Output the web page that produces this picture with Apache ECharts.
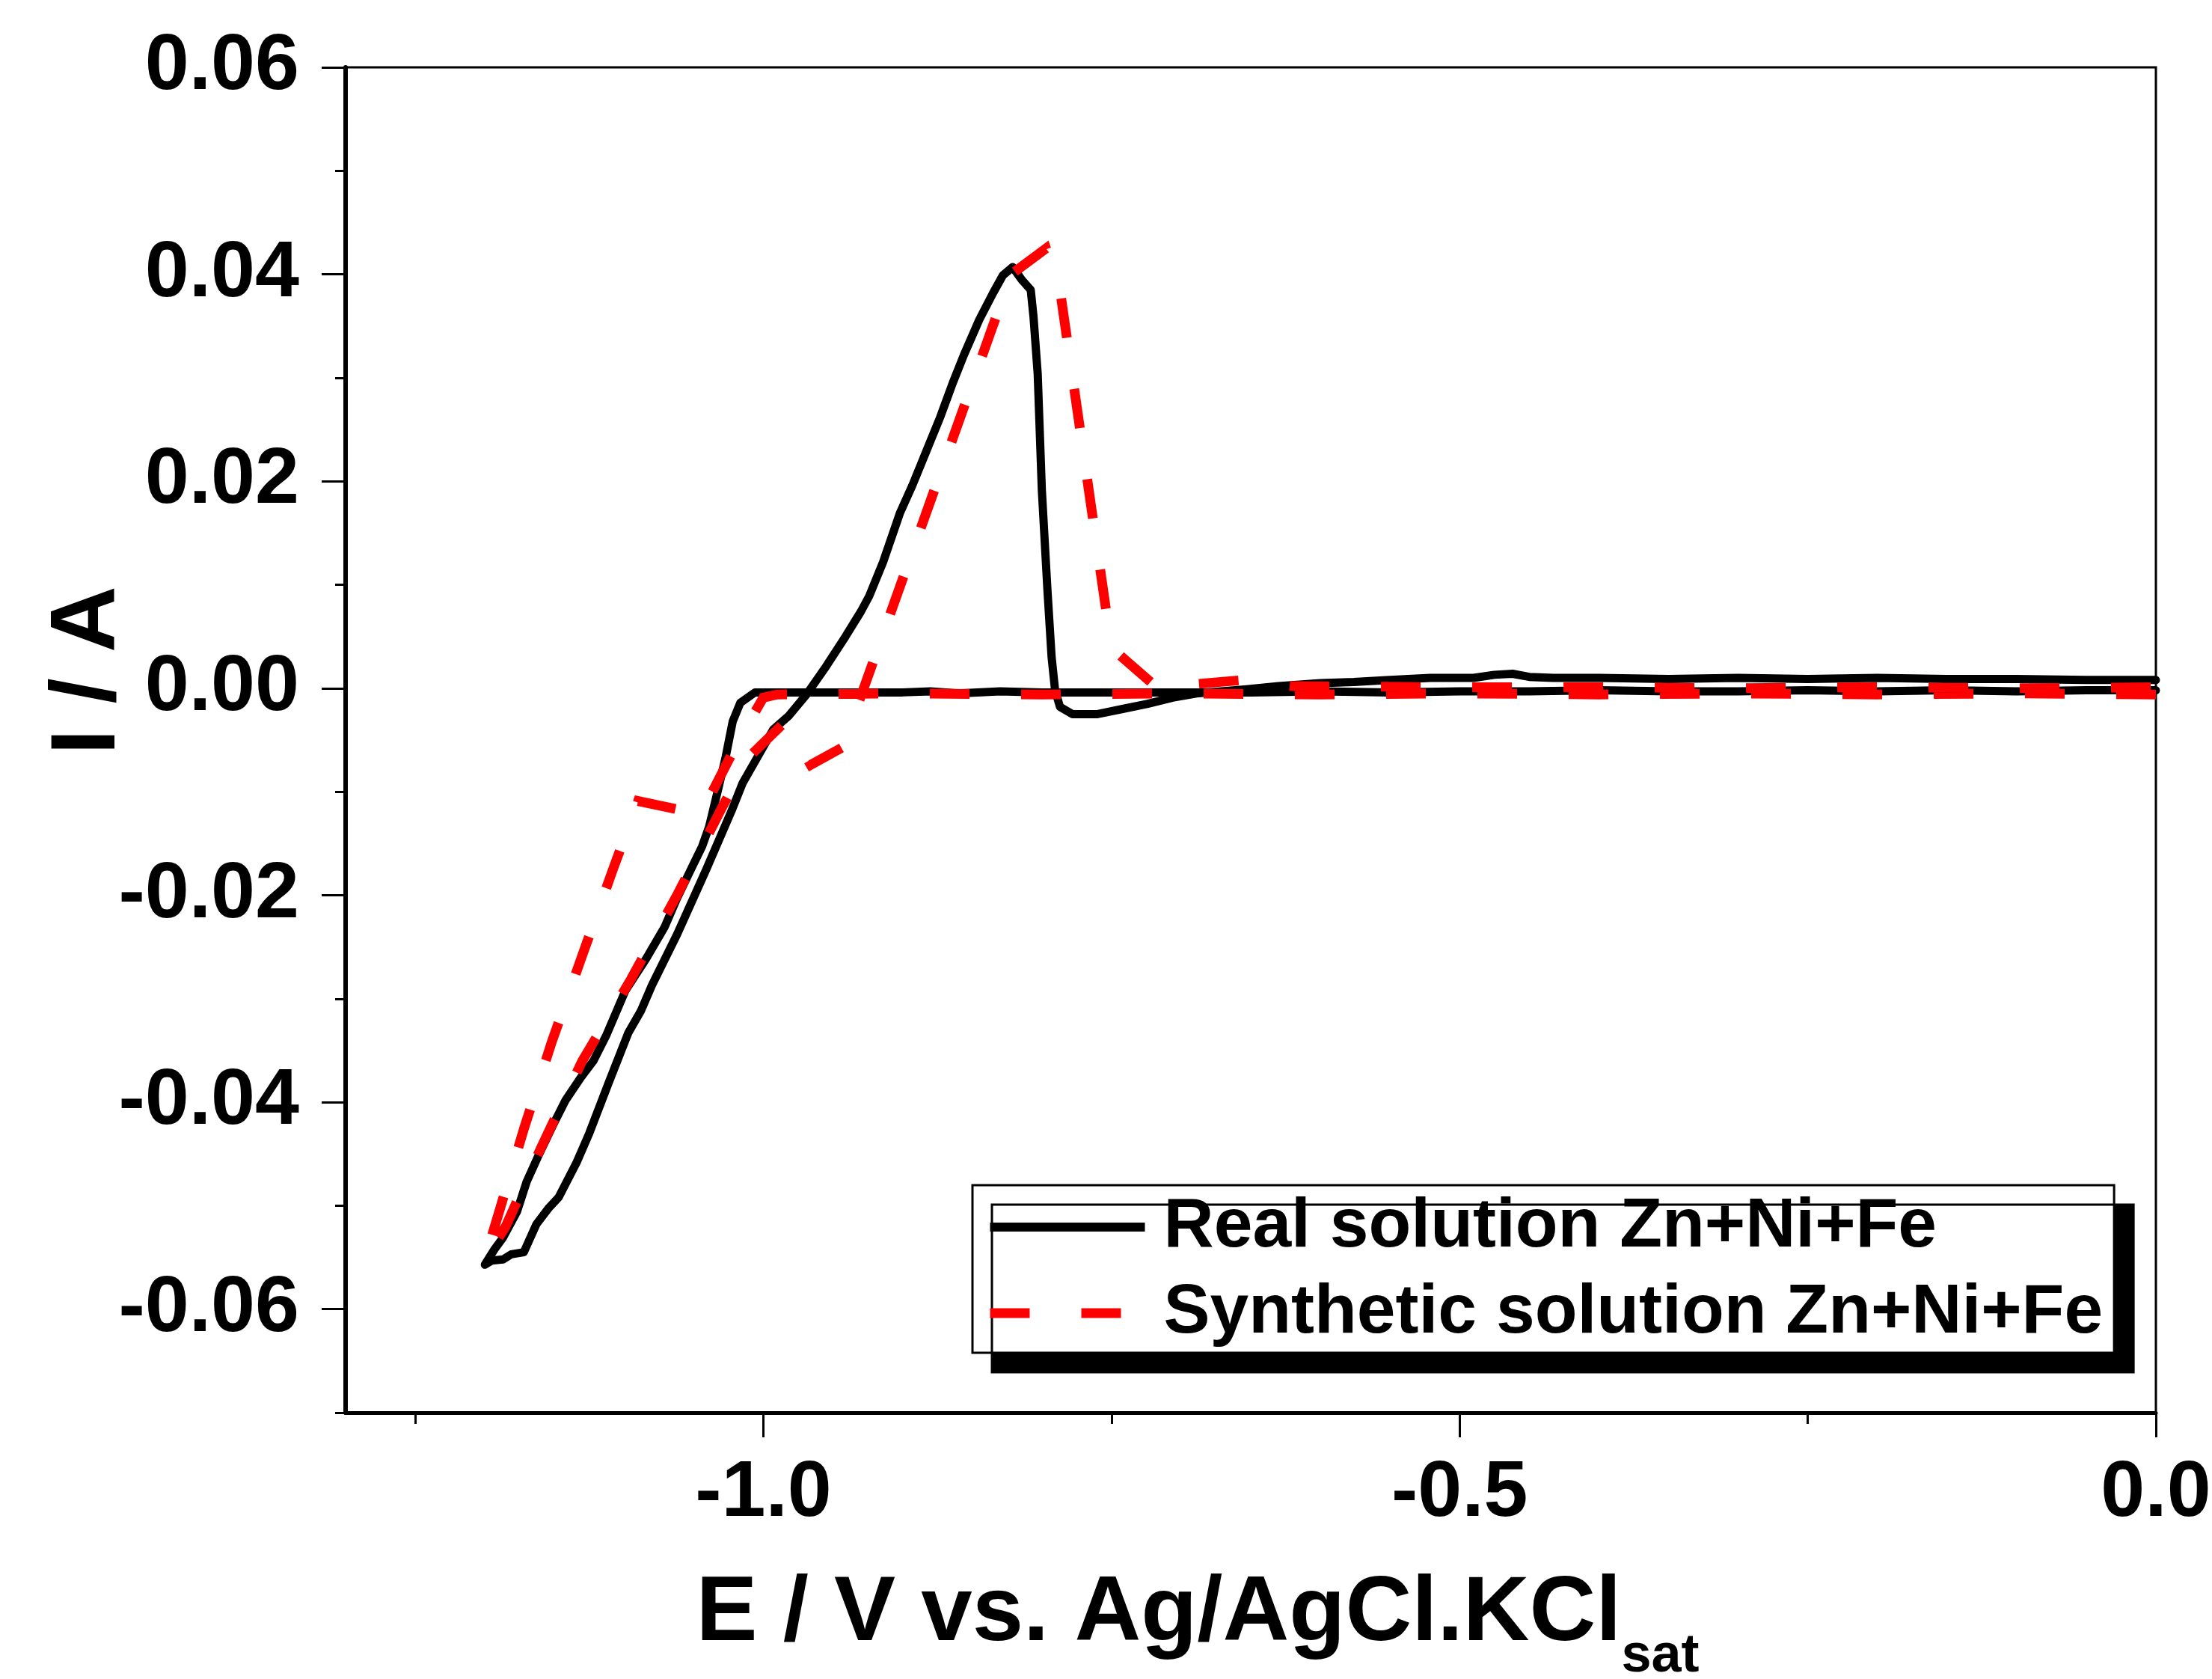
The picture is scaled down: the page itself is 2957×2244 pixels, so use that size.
<!DOCTYPE html>
<html>
<head>
<meta charset="utf-8">
<script src="https://cdn.jsdelivr.net/npm/echarts@6/dist/echarts.min.js"></script>
<style>html,body{margin:0;padding:0;background:#fff}#c{width:2957px;height:2244px}</style>
</head>
<body>
<div id="c"></div>
<script>
// ---- Data ----
const seriesNames = ['Real solution Zn+Ni+Fe', 'Synthetic solution Zn+Ni+Fe'];

// Real solution: cathodic scan 0 -> -1.2 V, then anodic scan back to 0 V
const realE = [
  0.000,-0.05,-0.10,-0.15,-0.20,-0.25,-0.30,-0.35,-0.40,-0.45,-0.50,-0.55,-0.60,-0.65,-0.70,-0.75,-0.80,-0.83,-0.86,-0.88,-0.90,-0.92,-0.94,-0.96,-0.98,-0.995,
  -1.006,-1.0165,-1.022,-1.027,-1.032,-1.039,-1.044,-1.052,-1.062,-1.071,-1.084,-1.099,-1.113,-1.122,-1.131,-1.142,-1.151,-1.162,-1.170,-1.177,-1.187,-1.193,-1.200,
  -1.195,-1.187,-1.181,-1.172,-1.163,-1.154,-1.147,-1.134,-1.125,-1.111,-1.097,-1.088,-1.080,-1.062,-1.041,-1.023,-1.015,-1.004,-0.993,-0.982,-0.969,-0.955,-0.941,
  -0.930,-0.924,-0.914,-0.902,-0.893,-0.883,-0.873,-0.864,-0.856,-0.845,-0.835,-0.828,-0.821,-0.814,-0.808,-0.806,-0.803,-0.800,-0.796,-0.793,-0.7905,-0.787,
  -0.778,-0.760,-0.742,-0.724,-0.706,-0.689,-0.653,-0.630,-0.600,-0.576,-0.550,-0.521,-0.490,-0.475,-0.462,-0.450,-0.433,-0.40,-0.35,-0.30,-0.25,-0.20,-0.15,-0.10,-0.05,0.000
];
const realI = [
  -0.0002,-0.0002,-0.0003,-0.0002,-0.0003,-0.0002,-0.0003,-0.0003,-0.0002,-0.0003,-0.0003,-0.0004,-0.0003,-0.0004,-0.0004,-0.0004,-0.0004,-0.0003,-0.0005,-0.0003,-0.0004,-0.0004,-0.0004,-0.0004,-0.0004,-0.0004,
  -0.0004,-0.0014,-0.0032,-0.0066,-0.0095,-0.0134,-0.0153,-0.0175,-0.0203,-0.0231,-0.0261,-0.0292,-0.0336,-0.0360,-0.0376,-0.0398,-0.0422,-0.0453,-0.0477,-0.0506,-0.0531,-0.0542,-0.0557,
  -0.0553,-0.0552,-0.0547,-0.0545,-0.0518,-0.0502,-0.0492,-0.0458,-0.0430,-0.0381,-0.0333,-0.0312,-0.0287,-0.0238,-0.0175,-0.0119,-0.0092,-0.0066,-0.0040,-0.0027,-0.0006,0.0021,0.0050,
  0.0074,0.0089,0.0122,0.0169,0.0196,0.0229,0.0262,0.0295,0.0322,0.0356,0.0382,0.0399,0.0407,0.0394,0.0385,0.0359,0.0304,0.0191,0.0095,0.0030,-0.0002,-0.0018,
  -0.0025,-0.0025,-0.0020,-0.0015,-0.0009,-0.0005,-0.0001,0.0002,0.0005,0.0006,0.0008,0.0010,0.0010,0.0013,0.0014,0.0011,0.0010,0.0010,0.0009,0.0010,0.0009,0.0010,0.0009,0.0009,0.0008,0.0008
];

// Synthetic solution: cathodic scan then anodic scan
const synE = [
  0.000,-0.10,-0.20,-0.30,-0.40,-0.50,-0.60,-0.70,-0.80,-0.90,-0.99,-1.000,-1.016,-1.045,-1.062,-1.090,-1.108,-1.130,-1.152,-1.172,-1.200,
  -1.185,-1.160,-1.130,-1.095,-1.062,-1.030,-1.010,-0.984,-0.966,-0.943,-0.822,-0.797,-0.787,-0.750,-0.716,-0.690,-0.655,-0.620,-0.50,-0.40,-0.30,-0.20,-0.10,0.000
];
const synI = [
  -0.0006,-0.0005,-0.0006,-0.0005,-0.0006,-0.0005,-0.0006,-0.0005,-0.0006,-0.0005,-0.0006,-0.0009,-0.0046,-0.0122,-0.0117,-0.0109,-0.0175,-0.0258,-0.0342,-0.0426,-0.0552,
  -0.0520,-0.0445,-0.0360,-0.0281,-0.0200,-0.0116,-0.0066,-0.0032,-0.0074,-0.0057,0.0400,0.0425,0.0385,0.0039,-0.0001,0.0004,0.0008,0.0002,0.0001,0.0001,0.0000,0.0001,0.0000,0.0001
];

// Axis ticks
const xMajorTicks = [-1.0, -0.5, 0.0];
const xMinorTicks = [-1.25, -0.75, -0.25];
const yMajorTicks = [-0.06, -0.04, -0.02, 0.00, 0.02, 0.04, 0.06];

// ---- Chart ----
const FONT = '"Liberation Sans", Arial, Helvetica, sans-serif';
const zip = (a, b) => a.map((v, i) => [v, b[i]]);
const chart = echarts.init(document.getElementById('c'), null, {renderer: 'canvas', width: 2957, height: 2244});

const realLine = {color: '#000', width: 11, join: 'round', cap: 'round'};
const synLine = {color: '#ff0000', width: 13, type: [53, 69], cap: 'butt', join: 'miter'};

const option = {
  animation: false,
  backgroundColor: '#ffffff',
  grid: {left: 462, right: 75, top: 90, bottom: 356, show: true, borderColor: '#000', borderWidth: 3,
         backgroundColor: 'transparent', containLabel: false, outerBoundsMode: 'none'},
  xAxis: [
    {
      type: 'value', min: -1.3, max: 0, position: 'bottom',
      axisLine: {onZero: false, lineStyle: {color: '#000', width: 5}},
      axisTick: {customValues: xMajorTicks, length: 33, lineStyle: {color: '#000', width: 3}},
      axisLabel: {customValues: xMajorTicks, formatter: v => v.toFixed(1), fontSize: 106, fontWeight: 'bold', fontFamily: FONT, color: '#000', margin: 56},
      splitLine: {show: false},
      name: '{a|E / V vs. Ag/AgCl.KCl}{b|sat}',
      nameLocation: 'middle', nameGap: 178, nameMoveOverlap: false,
      nameTextStyle: {
        padding: [0, 142, 0, 0],
        rich: {
          a: {fontSize: 123, fontWeight: 'bold', fontFamily: FONT, color: '#000'},
          b: {fontSize: 72, fontWeight: 'bold', fontFamily: FONT, color: '#000', verticalAlign: 'top', padding: [112, 0, 0, 0]}
        }
      }
    },
    {
      type: 'value', min: -1.3, max: 0, position: 'bottom',
      axisLine: {show: false, onZero: false},
      axisTick: {customValues: xMinorTicks, length: 15, lineStyle: {color: '#000', width: 3}},
      axisLabel: {show: false}, splitLine: {show: false}
    }
  ],
  yAxis: [
    {
      type: 'value', min: -0.07, max: 0.06, position: 'left',
      axisLine: {onZero: false, lineStyle: {color: '#000', width: 6}},
      axisTick: {customValues: yMajorTicks, length: 32, lineStyle: {color: '#000', width: 3}},
      axisLabel: {customValues: yMajorTicks, formatter: v => v.toFixed(2), fontSize: 106, fontWeight: 'bold', fontFamily: FONT, color: '#000', margin: 62},
      splitLine: {show: false},
      name: 'I / A', nameLocation: 'middle', nameGap: 281, nameMoveOverlap: false,
      nameTextStyle: {fontSize: 123, fontWeight: 'bold', fontFamily: FONT, color: '#000', lineHeight: 123, padding: [0, 0, 0, 186]}
    },
    {
      type: 'value', min: -0.07, max: 0.06, interval: 0.01, position: 'left',
      axisLine: {show: false, onZero: false},
      axisTick: {length: 14, lineStyle: {color: '#000', width: 3}},
      axisLabel: {show: false}, splitLine: {show: false}
    }
  ],
  legend: {
    orient: 'vertical', left: 1300, top: 1584,
    data: [
      {name: seriesNames[0], lineStyle: {width: 12, color: '#000', type: 'solid', cap: 'butt'}},
      {name: seriesNames[1], lineStyle: {width: 13, color: '#ff0000', type: [53, 69], cap: 'butt'}}
    ],
    selectedMode: false,
    itemWidth: 207, itemHeight: 14, itemGap: 15,
    padding: [6, 15, 3, 17],
    backgroundColor: '#fff', borderColor: '#000', borderWidth: 3,
    shadowColor: '#000', shadowBlur: 0, shadowOffsetX: 26, shadowOffsetY: 26,
    itemStyle: {opacity: 0},
    textStyle: {fontSize: 93, fontWeight: 'bold', fontFamily: FONT, color: '#000', lineHeight: 100, padding: [0, 0, 0, 20]}
  },
  series: [
    {
      name: seriesNames[0], type: 'line', xAxisIndex: 0, yAxisIndex: 0,
      data: zip(realE, realI), symbol: 'none', showSymbol: false, smooth: false,
      lineStyle: realLine, itemStyle: {color: '#000'}
    },
    {
      name: seriesNames[1], type: 'line', xAxisIndex: 0, yAxisIndex: 0,
      data: zip(synE, synI), symbol: 'none', showSymbol: false, smooth: false,
      lineStyle: synLine, itemStyle: {color: '#ff0000'}
    }
  ]
};
chart.setOption(option);
</script>
</body>
</html>
